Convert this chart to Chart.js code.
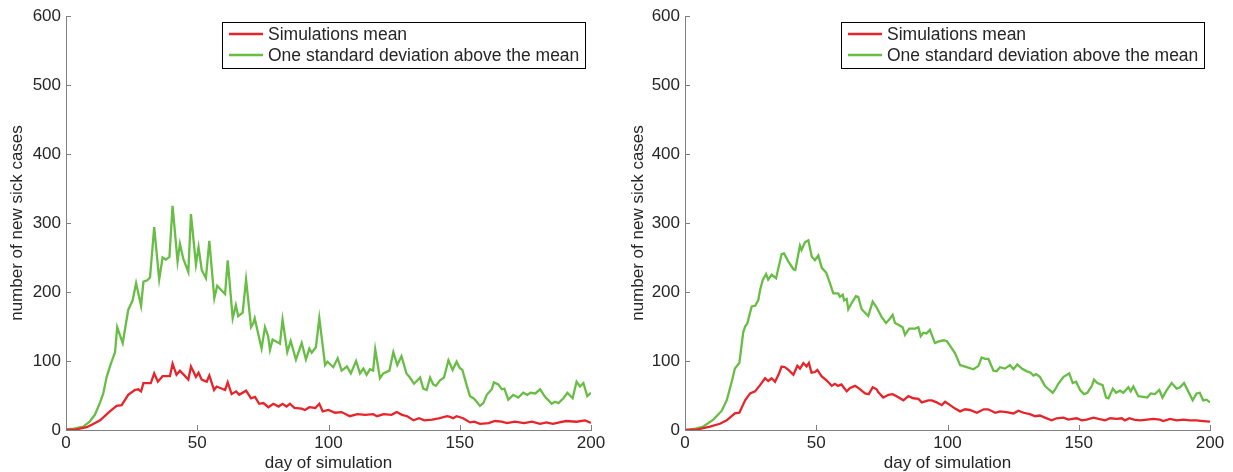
<!DOCTYPE html>
<html lang="en">
<head>
<meta charset="UTF-8">
<title>New sick cases per day</title>
<script src="https://cdn.jsdelivr.net/npm/chart.js"></script>
<style>
    body { margin: 0; background: #fff; }
    .panel { position: absolute; top: 0; height: 472px; }
</style>
</head>
<body>
<div class="panel" style="left:0; width:616px;"><canvas id="leftChart"></canvas></div>
<div class="panel" style="left:616px; width:617px;"><canvas id="rightChart"></canvas></div>
<script>
    // [day, new sick cases]
    const leftMean = [[0,0],[4,1],[7.9,4],[10,8],[13,14],[16.7,27],[19.3,35],[21.2,36],[23.7,51],[26.2,58],[27.5,59],[28.6,56],[29.5,68],[32.3,68],[33.6,82],[35,70],[36.8,78],[39.6,78],[40.6,96],[42.1,80],[43.4,86],[46.6,73],[47.6,92],[49.5,77],[50.5,83],[51.7,73],[53.6,70],[54.6,79],[56.4,58],[57.4,63],[60.6,58],[61.6,69],[63.1,52],[64.8,56],[66,51],[68.6,57],[70.5,46],[72,48],[73.6,38],[75.2,39],[77.1,33],[79,38],[81,34],[82.5,38],[84,34],[85.3,38],[87,32],[89.8,31],[91,29],[92.7,33],[95,32],[96.5,38],[97.8,27],[100,29],[102.5,25],[105,26],[108.1,20],[111,23],[114,22],[117,23],[118.5,20],[121,23],[124,22],[126,26],[128,22],[130,20],[132.4,14],[134.5,17],[136.5,14],[139.5,15],[142,17],[145.2,20],[146.3,19],[147.5,17],[148.8,20],[151.3,17],[153.9,11],[155.5,12],[157.7,9],[161,10],[163.4,13],[166,12],[168,10],[171,12],[174.5,10],[177.5,12],[180.6,9],[183,11],[185.5,9],[188,11],[190.5,13],[194.5,12],[197.7,14],[199.6,11],[200,10]];
    const leftUpper = [[0,1],[3,2],[6.6,5],[9,12],[11,22],[13,40],[14.2,53],[15.5,77],[17,95],[18.7,113],[19.5,149],[21.6,126],[23.7,174],[25.4,188],[26.7,213],[28.6,180],[29.5,215],[31,217],[32,221],[33.6,294],[35.5,218],[36.8,250],[38,247],[39.4,251],[40.6,325],[42.5,244],[43.4,270],[44.7,248],[46.6,229],[47.6,313],[49.5,240],[50.5,265],[51.7,232],[53.3,220],[54.6,274],[56.5,191],[57.6,209],[60.6,197],[61.6,246],[63.5,162],[64.7,181],[65.6,165],[67.3,170],[68.6,218],[70.5,149],[71.4,155],[71.9,162],[73.3,138],[74.5,118],[75.8,149],[77,136],[77.7,116],[78.7,131],[81.5,125],[82.5,160],[84.3,113],[85.6,129],[87.6,102],[89.8,126],[91.4,102],[92.7,118],[93.6,112],[95.2,120],[96.5,162],[98.7,94],[99.6,99],[101.8,91],[103.5,104],[105,86],[107,92],[108.5,82],[110.5,100],[112,82],[113.3,89],[114.5,80],[115.8,88],[117,86],[117.8,117],[119.6,75],[120.9,82],[123.2,86],[124.7,113],[126.2,94],[127.8,107],[129.7,82],[131,76],[132.6,67],[134.9,76],[136.1,60],[137.4,58],[138.7,76],[139.9,66],[140.9,64],[142.5,72],[144,76],[145.7,101],[147.3,87],[148.8,99],[150,90],[151,87],[152.4,68],[153.9,49],[155.2,46],[156,43],[157.7,35],[159,39],[160.3,51],[162.2,59],[163,69],[164.7,66],[166,59],[167,60],[168.5,44],[170.4,51],[172.3,47],[174.2,54],[175.7,51],[177,54],[178.8,53],[180.6,59],[182.5,48],[183.8,43],[185,38],[186.3,41],[187.6,39],[189.5,46],[191,54],[193,46],[194.5,70],[195.8,63],[197.1,68],[198.6,49],[200,54]];
    const rightMean = [[0,0],[5,1],[9.5,5],[13.3,9],[15.9,14],[19,24],[20.7,25],[22.9,43],[24.8,53],[26.7,56],[28.6,65],[30.5,75],[31.7,71],[33,75],[34.3,70],[35.6,80],[36.8,92],[38.1,91],[39.4,87],[41.3,80],[42.8,93],[43.8,89],[45.1,97],[46.3,92],[47.2,97],[48.2,83],[49.5,84],[50.4,87],[52,78],[53.9,72],[55.9,64],[57.1,67],[58.3,64],[59.6,66],[61.6,56],[62.9,61],[64.8,64],[66,61],[68.6,53],[70,52],[71.5,62],[73,59],[73.6,55],[75.5,47],[77.5,51],[79.1,52],[80.6,49],[83.2,43],[85.1,49],[87,46],[88.9,45],[90.2,40],[92.7,43],[94,43],[95.9,40],[97.8,36],[99.1,41],[101,36],[102.9,31],[104.8,27],[106.7,30],[108.5,29],[111.2,25],[113.8,30],[115.5,30],[118.2,25],[120,27],[122.5,26],[125.1,24],[127,28],[129,25],[131.4,23],[133.4,20],[135.2,21],[137.1,18],[139.7,14],[141.6,17],[144.2,18],[146.1,15],[147.5,16],[149.2,17],[151.1,14],[153,15],[155.6,18],[157.5,16],[160,14],[162,17],[164.5,16],[166.4,17],[167.6,14],[169.3,17],[171,15],[173.3,14],[176,15],[178.4,16],[180.9,15],[182.2,13],[184.8,16],[187.3,14],[189.9,15],[192.4,14],[194.9,14],[197.4,13],[200,12]];
    const rightUpper = [[0,0],[1.3,0],[4,2],[7,5],[10.8,15],[14,28],[15.9,43],[17.8,70],[19,89],[20.7,97],[22.2,142],[22.9,150],[23.7,154],[25.4,179],[26.7,180],[27.9,188],[28.6,203],[29.6,217],[30.9,226],[31.7,218],[33,225],[34.7,220],[36.8,255],[37.7,256],[39.4,244],[41.3,233],[42,232],[43.8,267],[44.4,261],[45.7,272],[47,275],[48.3,251],[49.5,246],[50.8,253],[52.1,235],[53.8,228],[55.2,213],[56.5,198],[58.4,198],[59,193],[60.1,196],[60.6,188],[61.6,190],[62.2,175],[63.5,184],[65.1,194],[66,193],[67.3,175],[69.8,165],[71.5,186],[72.8,179],[74.9,164],[76.6,155],[77.8,160],[79.1,167],[80,155],[81.9,151],[82.9,149],[83.8,138],[85.4,147],[87.6,147],[88.9,149],[89.8,136],[90.8,141],[92,140],[93.3,145],[95.2,126],[96.5,128],[98.4,130],[99.7,129],[101,122],[102.9,111],[104.8,94],[107.3,91],[109.9,88],[111.8,93],[113,105],[114.3,103],[115.6,103],[117.5,86],[118.7,85],[120,91],[121.9,89],[123.8,94],[125.1,88],[126.6,95],[128.3,89],[130.2,85],[131.7,83],[132.7,79],[133.7,81],[135.2,77],[137.1,64],[138.8,58],[140.1,54],[140.9,58],[142.2,67],[144.2,77],[146.4,82],[147.7,68],[149,70],[150.5,58],[152,52],[153.3,54],[155,64],[155.8,73],[157.1,68],[159.1,65],[160.4,47],[161.3,46],[163,60],[164.2,54],[165.7,57],[167,54],[168.9,62],[169.8,56],[170.8,63],[172.7,49],[174.6,48],[176.1,47],[177.4,53],[179,52],[180.7,58],[181.9,47],[183.4,57],[185.4,68],[187.3,60],[188.6,62],[190.1,68],[191.7,56],[193.4,43],[194.9,53],[196.1,54],[197.4,43],[198.7,44],[200,40]];

    const seriesNames = ['Simulations mean', 'One standard deviation above the mean'];
    const xTitle = 'day of simulation';
    const yTitle = 'number of new sick cases';

    const meanColor = '#e8242b';
    const upperColor = '#68bd45';
    const axisColor = '#808080';
    const textColor = '#262626';

    Chart.defaults.font.family = '"Liberation Sans", Arial, sans-serif';
    Chart.defaults.font.size = 17;
    Chart.defaults.color = textColor;

    // legend box drawn inside the plot, top right, like the matlab one
    const boxLegend = {
        id: 'boxLegend',
        afterDatasetsDraw(chart) {
            const {ctx, chartArea} = chart;
            const w = 363, h = 46;
            const x = Math.round(chartArea.right - 6 - w);
            const y = Math.round(chartArea.top + 6);
            ctx.save();
            ctx.fillStyle = '#fff';
            ctx.fillRect(x, y, w, h);
            ctx.strokeStyle = '#000';
            ctx.lineWidth = 1;
            ctx.strokeRect(x + 0.5, y + 0.5, w, h);
            ctx.font = '17.5px "Liberation Sans", Arial, sans-serif';
            ctx.textBaseline = 'middle';
            chart.data.datasets.forEach((ds, i) => {
                const ly = y + 12 + i * 21;
                ctx.strokeStyle = ds.borderColor;
                ctx.lineWidth = 2.3;
                ctx.beginPath();
                ctx.moveTo(x + 7, ly);
                ctx.lineTo(x + 41, ly);
                ctx.stroke();
                ctx.fillStyle = textColor;
                ctx.fillText(ds.label, x + 46, ly + 1);
            });
            ctx.restore();
        }
    };

    // tick marks point into the plot
    const inwardTicks = {
        id: 'inwardTicks',
        afterDraw(chart) {
            const {ctx, chartArea, scales} = chart;
            ctx.save();
            ctx.strokeStyle = axisColor;
            ctx.lineWidth = 1;
            ctx.beginPath();
            scales.x.ticks.forEach(t => {
                const px = Math.round(scales.x.getPixelForValue(t.value)) + 0.5;
                ctx.moveTo(px, chartArea.bottom);
                ctx.lineTo(px, chartArea.bottom - 5);
            });
            scales.y.ticks.forEach(t => {
                const py = Math.round(scales.y.getPixelForValue(t.value)) + 0.5;
                ctx.moveTo(chartArea.left, py);
                ctx.lineTo(chartArea.left + 5, py);
            });
            ctx.stroke();
            ctx.restore();
        }
    };

    function makeChart(id, mean, upper, yWidth, rightPad, titlePad) {
        const toPoints = arr => arr.map(p => ({x: p[0], y: p[1]}));
        return new Chart(document.getElementById(id), {
            type: 'line',
            data: {
                datasets: [
                    {label: seriesNames[0], data: toPoints(mean), borderColor: meanColor},
                    {label: seriesNames[1], data: toPoints(upper), borderColor: upperColor}
                ]
            },
            options: {
                responsive: true,
                maintainAspectRatio: false,
                animation: false,
                layout: {padding: {top: 16, right: rightPad, left: 0, bottom: 0}},
                elements: {
                    line: {borderWidth: 2.3, tension: 0, fill: false},
                    point: {radius: 0}
                },
                plugins: {legend: {display: false}, tooltip: {enabled: false}},
                scales: {
                    x: {
                        type: 'linear', min: 0, max: 200,
                        ticks: {stepSize: 50, padding: 3, maxRotation: 0},
                        grid: {drawOnChartArea: false, drawTicks: false},
                        border: {color: axisColor, width: 1},
                        title: {display: true, text: xTitle, font: {size: 17, lineHeight: 1}, padding: {top: 0, bottom: 0}},
                        afterFit: s => { s.height = 42; }
                    },
                    y: {
                        min: 0, max: 600,
                        ticks: {stepSize: 100, padding: 5},
                        grid: {drawOnChartArea: false, drawTicks: false},
                        border: {color: axisColor, width: 1},
                        title: {display: true, text: yTitle, font: {size: 17, lineHeight: 1}, padding: {top: titlePad, bottom: 0}},
                        afterFit: s => { s.width = yWidth; }
                    }
                }
            },
            plugins: [boxLegend, inwardTicks]
        });
    }

    makeChart('leftChart', leftMean, leftUpper, 66, 25, 8.5);
    makeChart('rightChart', rightMean, rightUpper, 69, 23, 13.5);
</script>
</body>
</html>
